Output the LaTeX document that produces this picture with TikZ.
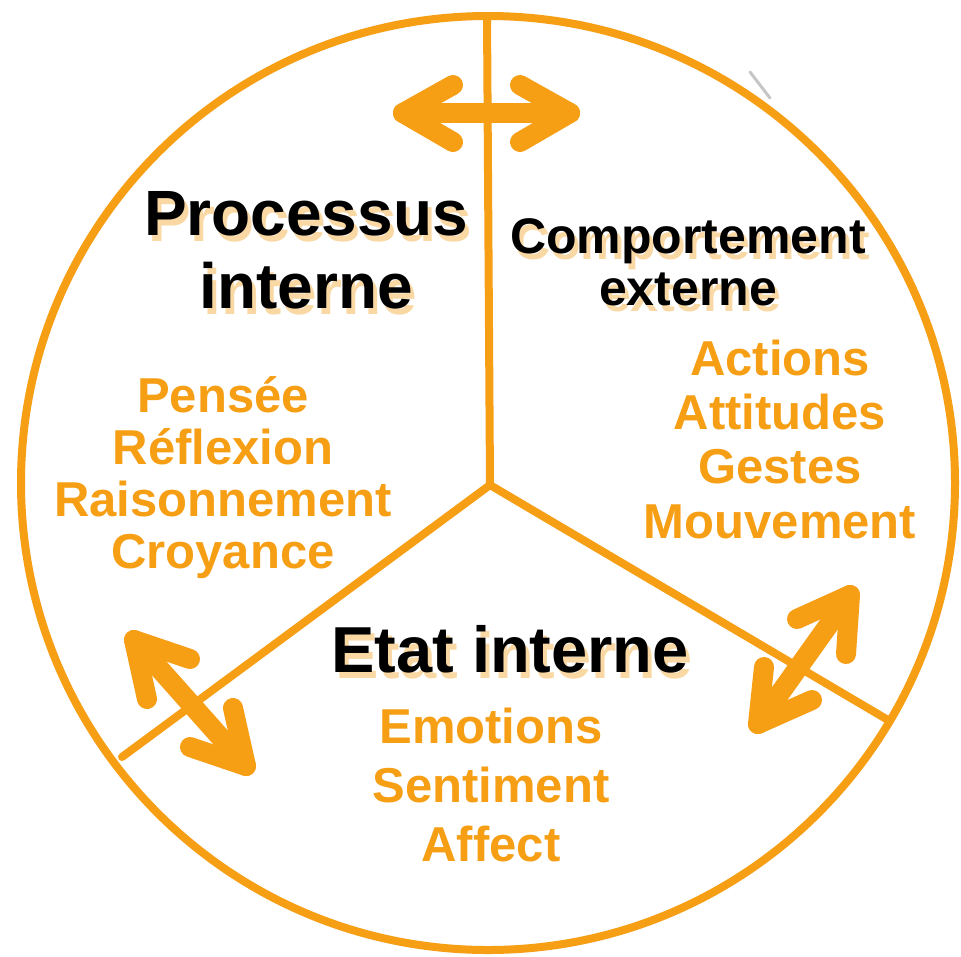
\documentclass[tikz,border=0pt]{standalone}
\usepackage{fontspec}
\setmainfont{Liberation Sans}
\definecolor{orng}{RGB}{246,158,20}
\definecolor{shadowc}{RGB}{250,216,164}
\newcommand\shd[1]{\makebox[0pt][l]{\hspace*{4pt}\raisebox{-6pt}{\textcolor{shadowc}{#1}}}#1}
\begin{document}
\begin{tikzpicture}[x=1pt,y=-1pt,
  ring/.style={draw=orng,line width=8},
  divider/.style={draw=orng,line width=8,line cap=round},
  dbl/.style={draw=orng,line width=20,line cap=round,line join=round},
  lbl/.style={align=center,anchor=base,inner sep=0pt},
  headA/.style={lbl,font=\bfseries\fontsize{64}{73}\selectfont},
  headB/.style={lbl,font=\bfseries\fontsize{50}{52}\selectfont},
  items/.style={lbl,text=orng,font=\bfseries\fontsize{49}{52}\selectfont}]
\useasboundingbox (0,0) rectangle (961,956);
\fill[white] (0,0) rectangle (961,956);
% circle and dividers
\coordinate (O) at (488,483);
\draw[ring] (O) circle [radius=467];
\coordinate (C) at (490,485);
\coordinate (Ctop) at (487,16);
\coordinate (Cl) at (122,757);
\coordinate (Cr) at (888,720);
\draw[divider] (C) -- (Ctop);
\draw[divider] (C) -- (Cl);
\draw[divider] (C) -- (Cr);
% small grey mark
\draw[gray!45,line width=3,line cap=round] (750,72) -- (770,98);
% top double arrow
\coordinate (ta1) at (403,113);
\coordinate (ta2) at (570,113);
\draw[dbl] (ta1) -- (ta2);
\draw[dbl] (453,85) -- (ta1) -- (453,142);
\draw[dbl] (520,85) -- (ta2) -- (520,142);
% lower-left double arrow
\coordinate (la1) at (134,640);
\coordinate (la2) at (246,766);
\draw[dbl] (la1) -- (la2);
\draw[dbl] (190,659) -- (la1) -- (147,699);
\draw[dbl] (233,708) -- (la2) -- (190,747);
% lower-right double arrow
\coordinate (ra1) at (850,595);
\coordinate (ra2) at (758,724);
\draw[dbl] (ra1) -- (ra2);
\draw[dbl] (797,619) -- (ra1) -- (846,654);
\draw[dbl] (764,667) -- (ra2) -- (812,700);
% headings (base anchor = baseline of last line)
\node[headA] (proc) at (306,308) {\shd{Processus}\\\shd{interne}};
\node[headB] (comp) at (688,305) {\shd{Comportement}\\\shd{externe}};
\node[lbl,font=\bfseries\fontsize{65}{70}\selectfont] (etat) at (510,672) {\shd{Etat interne}};
% item lists
\node[items] (lst1) at (223,568) {Pensée\\Réflexion\\Raisonnement\\Croyance};
\node[items,font=\bfseries\fontsize{49}{54.3}\selectfont] (lst2) at (780,538) {Actions\\Attitudes\\Gestes\\Mouvement};
\node[items,font=\bfseries\fontsize{49}{59}\selectfont] (lst3) at (491,861) {Emotions\\Sentiment\\Affect};
\end{tikzpicture}
\end{document}
